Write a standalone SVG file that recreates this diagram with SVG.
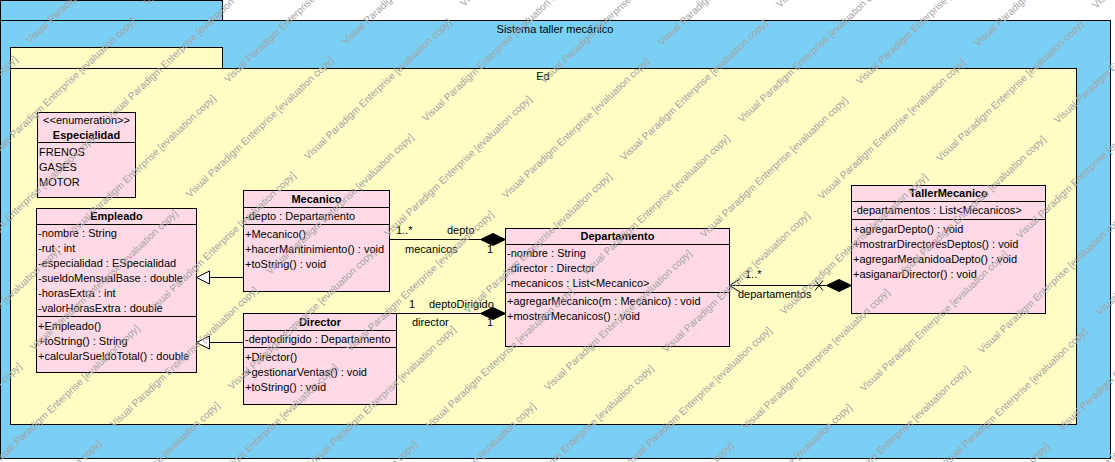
<svg xmlns="http://www.w3.org/2000/svg" xmlns:xlink="http://www.w3.org/1999/xlink" width="1115" height="462" viewBox="0 0 1115 462">
<style>
.t{font-family:"Liberation Sans",Arial,sans-serif;font-size:11px;fill:#000}
.b{font-weight:bold}
.c{text-anchor:middle}
.box{fill:#FFDAE6;stroke:#000;stroke-width:1}
.sep{stroke:#000;stroke-width:1}
.ln{stroke:#000;stroke-width:1;fill:none}
.pkgB{fill:#7ACFF5;stroke:#000;stroke-width:1}
.pkgY{fill:#FFFCC4;stroke:#000;stroke-width:1}
.wm{font-family:"Liberation Sans",Arial,sans-serif;font-size:10px;fill:#a4a4a4}
</style>
<defs>
<text id="wm" class="wm" transform="rotate(-43.5)">Visual Paradigm Enterprise [evaluation copy]</text>
</defs>
<rect width="1115" height="462" fill="#fff"/>
<g id="pkg-sistema">
<rect class="pkgB" x="0.5" y="0.5" width="222" height="20"/>
<rect class="pkgB" x="0.5" y="20.5" width="1110" height="438"/>
<text class="t c" x="555" y="33">Sistema taller mecánico</text>
</g>
<g id="pkg-ed">
<rect class="pkgY" x="10.5" y="47.5" width="212" height="21"/>
<rect class="pkgY" x="10.5" y="68.5" width="1066" height="356"/>
<text class="t c" x="543" y="80">Ed</text>
</g>
<g id="connectors">
<line class="ln" x1="243.5" y1="277.5" x2="209.5" y2="277.5"/>
<polygon points="196.5,277.5 209.5,271 209.5,284" fill="#fff" stroke="#000"/>
<line class="ln" x1="243.5" y1="342.5" x2="209.5" y2="342.5"/>
<polygon points="196.5,342.5 209.5,336 209.5,349" fill="#fff" stroke="#000"/>
<line class="ln" x1="389.5" y1="239.5" x2="480.5" y2="239.5"/>
<polygon points="505.5,239.5 493,233.5 480.5,239.5 493,245.5" fill="#000" stroke="#000"/>
<text class="t" x="396" y="234">1..*</text>
<text class="t" x="447" y="234">depto</text>
<text class="t" x="405" y="253">mecanicos</text>
<text class="t" x="487" y="253">1</text>
<line class="ln" x1="396.5" y1="313.5" x2="480.5" y2="313.5"/>
<polygon points="505.5,313.5 493,307.5 480.5,313.5 493,319.5" fill="#000" stroke="#000"/>
<text class="t" x="409" y="308">1</text>
<text class="t" x="429" y="308">deptoDirigido</text>
<text class="t" x="412" y="326">director</text>
<text class="t" x="487" y="326">1</text>
<line class="ln" x1="729.5" y1="285.5" x2="826.5" y2="285.5"/>
<polyline class="ln" points="740,279 729.5,285.5 740,292"/>
<path class="ln" d="M815,280.5 L823,290.5 M815,290.5 L823,280.5"/>
<polygon points="826.5,285.5 839,279.5 851.5,285.5 839,291.5" fill="#000" stroke="#000"/>
<text class="t" x="745" y="278">1..*</text>
<text class="t" x="738" y="298">departamentos</text>
</g>
<g id="especialidad">
<rect class="box" x="37.5" y="112.5" width="98" height="85"/>
<text class="t c" x="86.5" y="124">&lt;&lt;enumeration&gt;&gt;</text>
<text class="t b c" x="86.5" y="139">Especialidad</text>
<line class="sep" x1="37.5" y1="142.5" x2="135.5" y2="142.5"/>
<text class="t" x="39" y="156">FRENOS</text>
<text class="t" x="39" y="171">GASES</text>
<text class="t" x="39" y="186">MOTOR</text>
</g>
<g id="empleado">
<rect class="box" x="36.5" y="208.5" width="160" height="164"/>
<text class="t b c" x="116.5" y="220">Empleado</text>
<line class="sep" x1="36.5" y1="224.5" x2="196.5" y2="224.5"/>
<text class="t" x="38" y="237">-nombre : String</text>
<text class="t" x="38" y="252">-rut : int</text>
<text class="t" x="38" y="267">-especialidad : ESpecialidad</text>
<text class="t" x="38" y="282">-sueldoMensualBase : double</text>
<text class="t" x="38" y="297">-horasExtra : int</text>
<text class="t" x="38" y="312">-valorHorasExtra : double</text>
<line class="sep" x1="36.5" y1="316.5" x2="196.5" y2="316.5"/>
<text class="t" x="38" y="330">+Empleado()</text>
<text class="t" x="38" y="345">+toString() : String</text>
<text class="t" x="38" y="360">+calcularSueldoTotal() : double</text>
</g>
<g id="mecanico">
<rect class="box" x="243.5" y="190.5" width="146" height="101"/>
<text class="t b c" x="316.5" y="202.5">Mecanico</text>
<line class="sep" x1="243.5" y1="207.5" x2="389.5" y2="207.5"/>
<text class="t" x="245" y="220">-depto : Departamento</text>
<line class="sep" x1="243.5" y1="224.5" x2="389.5" y2="224.5"/>
<text class="t" x="245" y="238">+Mecanico()</text>
<text class="t" x="245" y="253">+hacerMantinimiento() : void</text>
<text class="t" x="245" y="268">+toString() : void</text>
</g>
<g id="director">
<rect class="box" x="243.5" y="313.5" width="153" height="91"/>
<text class="t b c" x="320" y="325.5">Director</text>
<line class="sep" x1="243.5" y1="330.5" x2="396.5" y2="330.5"/>
<text class="t" x="245" y="343">-deptodirigido : Departamento</text>
<line class="sep" x1="243.5" y1="347.5" x2="396.5" y2="347.5"/>
<text class="t" x="245" y="360.5">+Director()</text>
<text class="t" x="245" y="375.5">+gestionarVentas() : void</text>
<text class="t" x="245" y="390.5">+toString() : void</text>
</g>
<g id="departamento">
<rect class="box" x="505.5" y="228.5" width="224" height="118"/>
<text class="t b c" x="617.5" y="240">Departamento</text>
<line class="sep" x1="505.5" y1="244.5" x2="729.5" y2="244.5"/>
<text class="t" x="507" y="257">-nombre : String</text>
<text class="t" x="507" y="272">-director : Director</text>
<text class="t" x="507" y="287">-mecanicos : List&lt;Mecanico&gt;</text>
<line class="sep" x1="505.5" y1="292.5" x2="729.5" y2="292.5"/>
<text class="t" x="507" y="305">+agregarMecanico(m : Mecanico) : void</text>
<text class="t" x="507" y="320">+mostrarMecanicos() : void</text>
</g>
<g id="tallermecanico">
<rect class="box" x="851.5" y="185.5" width="194" height="128"/>
<text class="t b c" x="948.5" y="197">TallerMecanico</text>
<line class="sep" x1="851.5" y1="201.5" x2="1045.5" y2="201.5"/>
<text class="t" x="853" y="214">-departamentos : List&lt;Mecanicos&gt;</text>
<line class="sep" x1="851.5" y1="219.5" x2="1045.5" y2="219.5"/>
<text class="t" x="853" y="233">+agregarDepto() : void</text>
<text class="t" x="853" y="248">+mostrarDirectoresDeptos() : void</text>
<text class="t" x="853" y="263">+agregarMecanidoaDepto() : void</text>
<text class="t" x="853" y="278">+asiganarDirector() : void</text>
</g>
<g id="watermark">
<use href="#wm" x="148" y="6"/><use href="#wm" x="30" y="44"/><use href="#wm" x="-88" y="82"/>
<use href="#wm" x="464" y="7"/><use href="#wm" x="346" y="45"/><use href="#wm" x="228" y="83"/><use href="#wm" x="110" y="121"/><use href="#wm" x="-8" y="159"/><use href="#wm" x="-126" y="197"/>
<use href="#wm" x="780" y="8"/><use href="#wm" x="662" y="46"/><use href="#wm" x="544" y="84"/><use href="#wm" x="426" y="122"/><use href="#wm" x="308" y="160"/><use href="#wm" x="190" y="198"/><use href="#wm" x="72" y="236"/><use href="#wm" x="-46" y="274"/>
<use href="#wm" x="1096" y="9"/><use href="#wm" x="978" y="47"/><use href="#wm" x="860" y="85"/><use href="#wm" x="742" y="123"/><use href="#wm" x="624" y="161"/><use href="#wm" x="506" y="199"/><use href="#wm" x="388" y="237"/><use href="#wm" x="270" y="275"/><use href="#wm" x="152" y="313"/><use href="#wm" x="34" y="351"/><use href="#wm" x="-84" y="389"/>
<use href="#wm" x="1058" y="124"/><use href="#wm" x="940" y="162"/><use href="#wm" x="822" y="200"/><use href="#wm" x="704" y="238"/><use href="#wm" x="586" y="276"/><use href="#wm" x="468" y="314"/><use href="#wm" x="350" y="352"/><use href="#wm" x="232" y="390"/><use href="#wm" x="114" y="428"/><use href="#wm" x="-4" y="466"/><use href="#wm" x="-122" y="504"/>
<use href="#wm" x="1020" y="239"/><use href="#wm" x="902" y="277"/><use href="#wm" x="784" y="315"/><use href="#wm" x="666" y="353"/><use href="#wm" x="548" y="391"/><use href="#wm" x="430" y="429"/><use href="#wm" x="312" y="467"/><use href="#wm" x="194" y="505"/><use href="#wm" x="76" y="543"/><use href="#wm" x="-42" y="581"/>
<use href="#wm" x="1100" y="316"/><use href="#wm" x="982" y="354"/><use href="#wm" x="864" y="392"/><use href="#wm" x="746" y="430"/><use href="#wm" x="628" y="468"/><use href="#wm" x="510" y="506"/><use href="#wm" x="392" y="544"/><use href="#wm" x="274" y="582"/>
<use href="#wm" x="1062" y="431"/><use href="#wm" x="944" y="469"/><use href="#wm" x="826" y="507"/><use href="#wm" x="708" y="545"/><use href="#wm" x="590" y="583"/>
<use href="#wm" x="906" y="584"/><use href="#wm" x="1024" y="546"/>
</g>
</svg>
